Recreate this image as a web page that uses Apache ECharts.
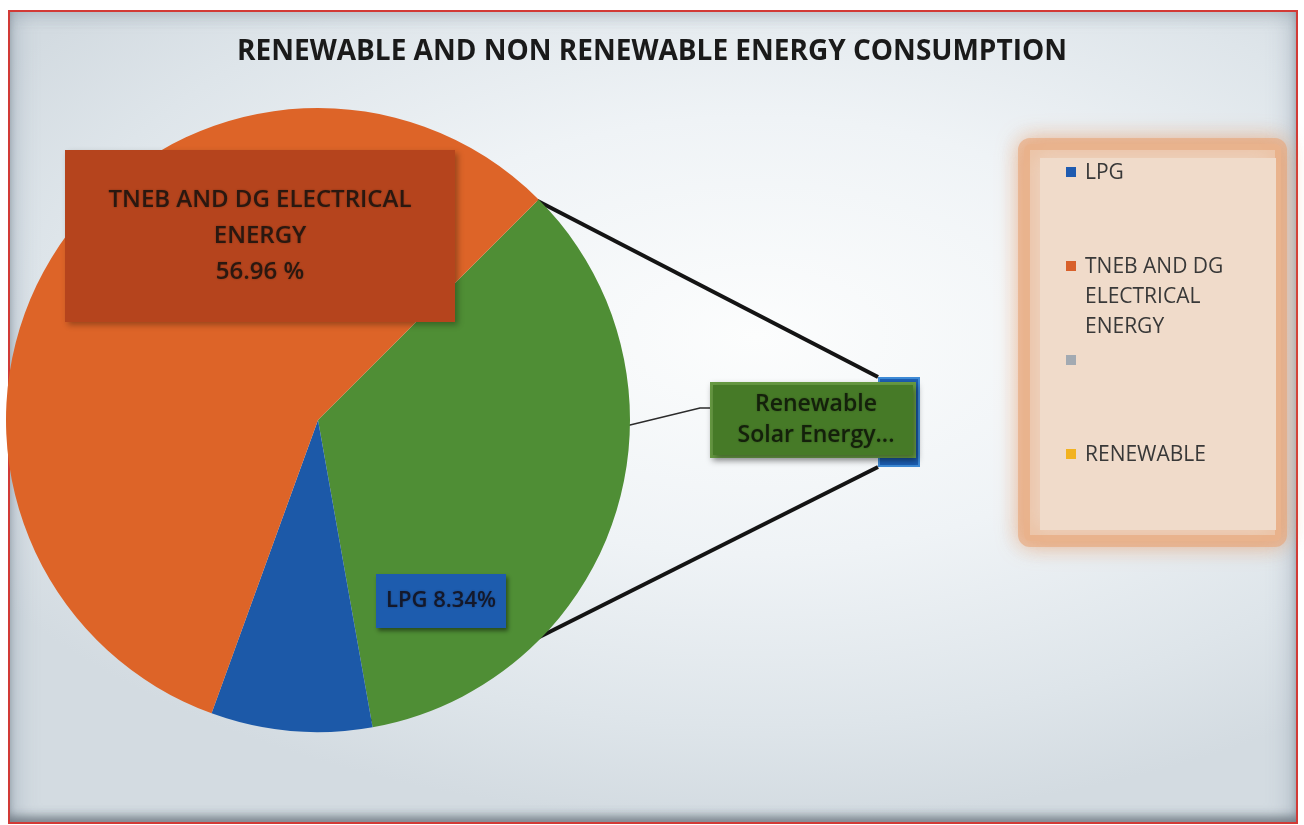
<!DOCTYPE html>
<html>
<head>
<meta charset="utf-8">
<title>Renewable and Non Renewable Energy Consumption</title>
<script src="https://cdn.jsdelivr.net/npm/echarts@6/dist/echarts.min.js"></script>
<style>
  html, body { margin: 0; padding: 0; background: #ffffff; }
  #frame {
    position: absolute; left: 8px; top: 10px; width: 1286px; height: 810px;
    border: 2px solid #d23a36;
    background:
      radial-gradient(ellipse 70% 60% at 58% 40%, #fcfdfd 0%, #eff3f6 45%, #dee5ea 80%, #d3dbe1 100%);
    box-shadow:
      inset 0 -8px 8px -2px rgba(70, 80, 90, 0.55),
      inset 14px 0 22px -8px rgba(140, 155, 170, 0.45),
      inset -14px 0 22px -8px rgba(140, 155, 170, 0.45),
      inset 0 12px 16px -8px rgba(150, 160, 170, 0.35);
  }
  #chart { position: absolute; left: 0; top: 0; width: 1304px; height: 825px; }
</style>
</head>
<body>
<div id="frame"></div>
<div id="chart"></div>
<script>
// Main pie, drawn clockwise from the upper-right edge
const sliceNames = ['Renewable Solar Energy', 'LPG', 'TNEB AND DG ELECTRICAL ENERGY'];
const sliceValues = [34.70, 8.34, 56.96];
const sliceColors = ['#4f8e35', '#1c59a8', '#dd6428'];

// Secondary bar (breakdown of the renewable slice)
const barNames = ['Renewable Solar Energy'];
const barValues = [34.70];

// Legend entries
const legendNames = ['LPG', 'TNEB AND DG\nELECTRICAL\nENERGY', '', 'RENEWABLE'];
const legendColors = ['#1f5bb0', '#d8602a', '#a3aab2', '#f2b21f'];

const FONT = "'Open Sans', 'Noto Sans', sans-serif";
const pieCenter = [318, 420];
const pieRadius = 312;
const startAngle = 45;
const barBox = { left: 878, top: 377, width: 42, height: 90 };

// Where each slice's label box sits
const labelSpots = [[813, 420], [441, 601], [260, 236]];

const total = sliceValues.reduce((a, b) => a + b, 0);
const greenSweep = 360 * sliceValues[0] / total;
function rimPoint(deg, inset) {
  const r = deg * Math.PI / 180;
  const rad = pieRadius - (inset || 0);
  return [pieCenter[0] + rad * Math.cos(r), pieCenter[1] - rad * Math.sin(r)];
}
const rimTop = rimPoint(startAngle, 2);
const rimBottom = rimPoint(startAngle - greenSweep, 6);
// leader from the renewable slice's right edge to its label box
const leaderStart = rimPoint(-1, 2);
const leaderPoints = [leaderStart, [700, 408], [712, 408]];

const labelStyles = [
  {
    position: 'outside',
    formatter: p => p.name.replace(' ', '\n') + '...',
    color: '#14200b', fontFamily: FONT, fontSize: 23, fontWeight: 600, lineHeight: 31,
    backgroundColor: '#467a27', borderColor: '#679a42', borderWidth: 3,
    width: 178, padding: [4, 8, 4, 14], align: 'center',
    shadowColor: 'rgba(0,0,0,0.35)', shadowBlur: 6, shadowOffsetX: 2, shadowOffsetY: 3,
    textShadowColor: 'rgba(0,0,0,0.3)', textShadowBlur: 2
  },
  {
    position: 'inside',
    formatter: '{b} {d}%',
    color: '#14182a', fontFamily: FONT, fontSize: 22, fontWeight: 600,
    backgroundColor: '#1d5cae', width: 130, padding: [16, 0], align: 'center',
    shadowColor: 'rgba(0,0,0,0.45)', shadowBlur: 4, shadowOffsetX: 2, shadowOffsetY: 3,
    textShadowColor: 'rgba(0,0,0,0.3)', textShadowBlur: 2
  },
  {
    position: 'inside',
    formatter: p => p.name.replace(' ENERGY', '\nENERGY') + '\n' + p.percent.toFixed(2) + ' %',
    color: '#2a1810', fontFamily: FONT, fontSize: 24, fontWeight: 600, lineHeight: 36,
    backgroundColor: '#b5441d', width: 390, padding: [32, 0], align: 'center',
    shadowColor: 'rgba(0,0,0,0.3)', shadowBlur: 6, shadowOffsetX: 3, shadowOffsetY: 3,
    textShadowColor: 'rgba(0,0,0,0.3)', textShadowBlur: 2
  }
];

const pieData = sliceNames.map((name, i) => ({
  name: name,
  value: sliceValues[i],
  itemStyle: { color: sliceColors[i] },
  label: Object.assign({ show: true }, labelStyles[i]),
  labelLine: { show: i === 0, lineStyle: { color: '#2b2b2b', width: 1.5 } }
}));

// Legend drawn as a framed panel with coloured squares
const legendGraphics = [];
const legendTop = 172, legendStep = 94;
legendNames.forEach((name, i) => {
  const y = legendTop + legendStep * i;
  legendGraphics.push({
    type: 'rect', z: 5,
    shape: { x: 1066, y: y - 5, width: 10, height: 10 },
    style: { fill: legendColors[i] }
  });
  legendGraphics.push({
    type: 'text', z: 5, x: 1085, y: y - 14,
    style: { text: name, fill: '#383838', font: '400 21px ' + FONT, lineHeight: 30, verticalAlign: 'top' }
  });
});

const chart = echarts.init(document.getElementById('chart'), null, { renderer: 'canvas' });
chart.setOption({
  backgroundColor: 'transparent',
  animation: false,
  title: {
    text: 'RENEWABLE AND NON RENEWABLE ENERGY CONSUMPTION',
    left: 'center', top: 33,
    textStyle: { fontFamily: FONT, fontWeight: 700, fontSize: 28, color: '#1a1a1a' }
  },
  grid: { left: barBox.left, top: barBox.top, width: barBox.width, height: barBox.height },
  xAxis: { type: 'category', data: barNames, show: false },
  yAxis: { type: 'value', min: 0, max: barValues[0], show: false },
  graphic: [
    {
      type: 'rect', z: 3,
      shape: { x: 1024, y: 144, width: 257, height: 397, r: 6 },
      style: { fill: '#eed3bf', stroke: 'rgba(232,165,120,0.6)', lineWidth: 12,
               shadowBlur: 22, shadowColor: 'rgba(228,140,80,0.65)' }
    },
    {
      type: 'rect', z: 4,
      shape: { x: 1040, y: 158, width: 236, height: 372 },
      style: { fill: '#f0dbca' }
    },
    {
      type: 'line', z: 0,
      shape: { x1: rimTop[0], y1: rimTop[1], x2: barBox.left, y2: barBox.top },
      style: { stroke: '#141414', lineWidth: 4 }
    },
    {
      type: 'line', z: 0,
      shape: { x1: rimBottom[0], y1: rimBottom[1], x2: barBox.left, y2: barBox.top + barBox.height },
      style: { stroke: '#141414', lineWidth: 4 }
    }
  ].concat(legendGraphics),
  series: [
    {
      type: 'bar', z: 1,
      data: barValues,
      barWidth: '100%',
      itemStyle: { color: '#1d5fb3', borderColor: '#3d8ad6', borderWidth: 2 },
      label: { show: false }
    },
    {
      type: 'pie', z: 2,
      center: pieCenter,
      radius: pieRadius,
      startAngle: startAngle,
      clockwise: true,
      avoidLabelOverlap: false,
      percentPrecision: 2,
      data: pieData,
      labelLayout: function (p) {
        const spot = labelSpots[p.dataIndex];
        const out = { x: spot[0], y: spot[1], align: 'center', verticalAlign: 'middle' };
        if (p.dataIndex === 0) out.labelLinePoints = leaderPoints;
        return out;
      },
      emphasis: { disabled: true }
    }
  ]
});
</script>
</body>
</html>
